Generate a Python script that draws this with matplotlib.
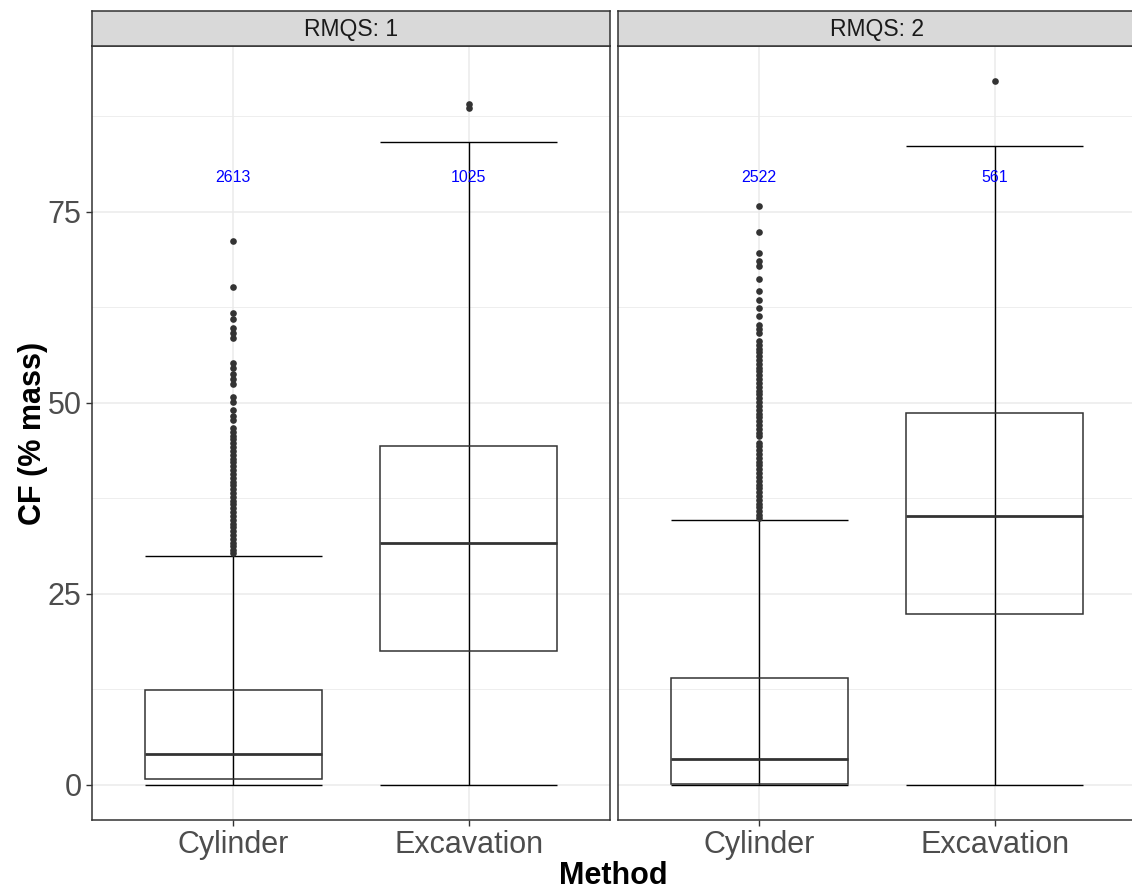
import matplotlib.pyplot as plt
import matplotlib.patches as mpatches

plt.rcParams['font.family'] = ['Liberation Sans', 'DejaVu Sans']

methods = ['Cylinder', 'Excavation']
panels = ['RMQS: 1', 'RMQS: 2']

# box stats per panel: [Cylinder, Excavation]
whisk_lo = [[0.0, 0.0], [0.0, 0.0]]
q1 = [[0.8, 17.5], [0.1, 22.4]]
med = [[4.1, 31.7], [3.4, 35.2]]
q3 = [[12.4, 44.4], [14.0, 48.7]]
whisk_hi = [[30.0, 84.2], [34.7, 83.6]]
counts = [['2613', '1025'], ['2522', '561']]

out_rmqs1_cyl = [71.2, 65.2, 61.7, 61.0, 59.8, 59.1, 58.5, 55.2, 54.5, 53.8, 53.1, 52.5,
                 50.8, 50.1, 49.0, 48.3, 47.7, 46.7, 46.2, 45.7, 45.2, 44.7, 44.2, 43.7,
                 43.2, 42.7, 42.2, 41.7, 41.2, 40.7, 40.2, 39.7, 39.2, 38.7, 38.2, 37.7,
                 37.2, 36.7, 36.2, 35.7, 35.2, 34.7, 34.2, 33.7, 33.2, 32.7, 32.2, 31.7,
                 31.2, 30.7, 30.3]
out_rmqs1_exc = [89.1, 88.6]
out_rmqs2_cyl = [75.8, 72.4, 69.6, 68.6, 67.9, 66.2, 64.6, 63.4, 62.4, 61.3, 60.2, 59.7,
                 59.2, 58.1, 57.6, 57.1, 56.6, 56.1, 55.6, 55.1, 54.6, 54.1, 53.6, 53.1,
                 52.6, 52.1, 51.6, 51.1, 50.6, 50.1, 49.6, 49.1, 48.6, 48.1, 47.6, 47.1,
                 46.6, 46.1, 45.6, 44.8, 44.3, 43.8, 43.3, 42.8, 42.3, 41.8, 41.3, 40.8,
                 40.3, 39.8, 39.3, 38.8, 38.3, 37.8, 37.3, 36.8, 36.3, 35.8, 35.3, 34.9]
out_rmqs2_exc = [92.1]
outliers = [[out_rmqs1_cyl, out_rmqs1_exc], [out_rmqs2_cyl, out_rmqs2_exc]]

label_y = 79.5

fig = plt.figure(figsize=(11.32, 8.9), dpi=100)
W, H = 1132, 890
axes_px = [(92, 610), (618, 1136)]
top_px, bot_px = 46, 820
strip_top = 11

box_w = 0.75
dark = '#333333'

for p in range(2):
    l, r = axes_px[p]
    ax = fig.add_axes([l / W, 1 - bot_px / H, (r - l) / W, (bot_px - top_px) / H])
    ax.set_xlim(0.4, 2.6)
    ax.set_ylim(-4.6, 96.7)
    ax.set_yticks([0, 25, 50, 75])
    ax.set_yticks([12.5, 37.5, 62.5, 87.5], minor=True)
    ax.set_xticks([1, 2])
    ax.set_xticklabels(methods)
    ax.grid(True, which='major', color='#EBEBEB', lw=1.1)
    ax.grid(True, which='minor', axis='y', color='#EBEBEB', lw=0.6)
    ax.set_axisbelow(True)
    for s in ax.spines.values():
        s.set_color(dark)
        s.set_linewidth(1.1)
    ax.tick_params(axis='both', which='major', labelsize=22, labelcolor='#4D4D4D',
                   color=dark, length=4, width=1)
    ax.tick_params(axis='y', which='minor', length=0)
    if p == 1:
        ax.tick_params(axis='y', which='both', left=False, labelleft=False)

    for i in range(2):
        x = i + 1
        # errorbar through the box with caps
        ax.vlines(x, whisk_lo[p][i], whisk_hi[p][i], color='black', lw=1)
        ax.hlines([whisk_lo[p][i], whisk_hi[p][i]], x - box_w / 2, x + box_w / 2,
                  color='black', lw=1)
        ax.add_patch(mpatches.Rectangle((x - box_w / 2, q1[p][i]), box_w, q3[p][i] - q1[p][i],
                                        fill=False, edgecolor=dark, lw=1.1, zorder=3))
        ax.hlines(med[p][i], x - box_w / 2, x + box_w / 2, color=dark, lw=2, zorder=4)
        ax.plot([x] * len(outliers[p][i]), outliers[p][i], 'o', color=dark,
                markersize=4.8, markeredgewidth=0, zorder=5)
        ax.text(x, label_y, counts[p][i], color='blue', fontsize=11.5,
                ha='center', va='center', zorder=6)

    # strip
    sax = fig.add_axes([l / W, 1 - top_px / H, (r - l) / W, (top_px - strip_top) / H])
    sax.set_facecolor('#D9D9D9')
    sax.set_xticks([])
    sax.set_yticks([])
    for s in sax.spines.values():
        s.set_color(dark)
        s.set_linewidth(1.1)
    sax.text(0.5, 0.47, panels[p], ha='center', va='center', fontsize=16.5,
             color='#1A1A1A', transform=sax.transAxes)

fig.text(33 / W, 1 - 433 / H, 'CF (% mass)', ha='center', va='center', fontsize=22,
         fontweight='bold', rotation=90)
fig.text(613 / W, 1 - 876 / H, 'Method', ha='center', va='center', fontsize=22,
         fontweight='bold')

fig.savefig('out.png', dpi=100)
